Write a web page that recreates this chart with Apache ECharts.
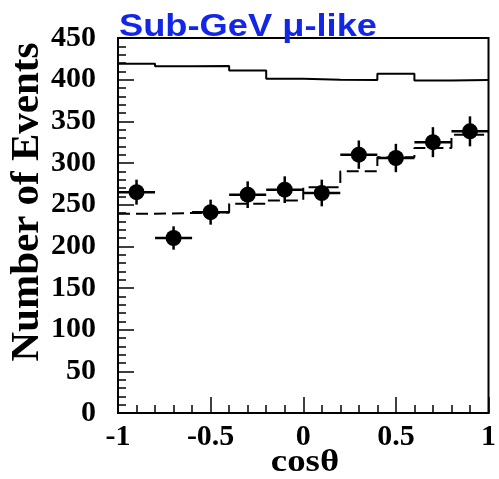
<!DOCTYPE html>
<html>
<head>
<meta charset="utf-8">
<script src="https://cdn.jsdelivr.net/npm/echarts@6/dist/echarts.min.js"></script>
<style>
html,body{margin:0;padding:0;background:#fff;}
#chart{width:499px;height:479px;}
</style>
</head>
<body>
<div id="chart"></div>
<script>
// ---- data ----
var binCenters = [-0.9, -0.7, -0.5, -0.3, -0.1, 0.1, 0.3, 0.5, 0.7, 0.9];
var binHalfWidth = 0.1;
var noOscMC = [419, 416, 416.5, 411, 401, 400, 399.5, 407, 399, 399.5];
var oscMC = [239, 240, 240.5, 251, 255, 271, 290, 307, 318, 334];
var dataVals = [265, 210, 241, 262, 268, 264, 310, 306, 325, 338];
var dataErr = [15, 14, 15, 16, 16, 16, 17, 17, 18, 18];
var titleText = 'Sub-GeV \u03bc-like';
var xTitle = 'cos\u03b8';
var yTitle = 'Number of Events';

// histogram step path from bins
function histPoints(vals) {
  var pts = [];
  for (var i = 0; i < vals.length; i++) {
    pts.push([binCenters[i] - binHalfWidth, vals[i]]);
  }
  pts.push([binCenters[vals.length - 1] + binHalfWidth, vals[vals.length - 1]]);
  return pts;
}
var errData = binCenters.map(function (c, i) { return [c, dataVals[i], dataErr[i], binHalfWidth]; });
var ptData = binCenters.map(function (c, i) { return [c, dataVals[i]]; });

var serif = '"Liberation Serif", "Times New Roman", serif';
var chart = echarts.init(document.getElementById('chart'), null, {renderer: 'canvas'});
chart.setOption({
  animation: false,
  backgroundColor: '#fff',
  grid: {left: 118, right: 6, top: 38, bottom: 66, show: true, borderColor: '#000', borderWidth: 2, backgroundColor: 'transparent'},
  xAxis: {
    type: 'value', min: -1, max: 1, interval: 0.5,
    axisLine: {onZero: false, lineStyle: {color: '#000', width: 2}},
    axisTick: {inside: true, length: 16, lineStyle: {color: '#000', width: 1.5}},
    minorTick: {show: true, splitNumber: 5, length: 8, lineStyle: {color: '#000', width: 1.5}},
    splitLine: {show: false},
    axisLabel: {color: '#000', fontFamily: serif, fontWeight: 'bold', fontSize: 30, margin: 9}
  },
  yAxis: {
    type: 'value', min: 0, max: 450, interval: 50,
    axisLine: {onZero: false, lineStyle: {color: '#000', width: 2}},
    axisTick: {inside: true, length: 16, lineStyle: {color: '#000', width: 1.5}},
    minorTick: {show: true, splitNumber: 5, length: 8, lineStyle: {color: '#000', width: 1.5}},
    splitLine: {show: false},
    axisLabel: {color: '#000', fontFamily: serif, fontWeight: 'bold', fontSize: 30, margin: 22}
  },
  graphic: [
    {type: 'text', x: 119, y: 27, scaleX: 1.17, z: 100,
     style: {text: titleText, fill: '#1226e8', font: 'bold 31px "Liberation Sans", Arial, sans-serif', align: 'left', verticalAlign: 'middle'}},
    {type: 'text', x: 305, y: 463, scaleX: 1.15, z: 100,
     style: {text: xTitle, fill: '#000', font: 'bold 32px ' + serif, align: 'center', verticalAlign: 'middle'}},
    {type: 'text', x: 27, y: 202, rotation: Math.PI / 2, z: 100,
     style: {text: yTitle, fill: '#000', font: 'bold 41px ' + serif, align: 'center', verticalAlign: 'middle'}}
  ],
  series: [
    {type: 'line', step: 'end', data: histPoints(noOscMC), showSymbol: false, symbol: 'none',
     lineStyle: {color: '#000', width: 2}, z: 2},
    {type: 'line', step: 'end', data: histPoints(oscMC), showSymbol: false, symbol: 'none',
     lineStyle: {color: '#000', width: 2, type: [12, 6]}, z: 2},
    {type: 'custom', data: errData, z: 3,
     renderItem: function (params, api) {
       var x = api.value(0), y = api.value(1), e = api.value(2), h = api.value(3);
       var p1 = api.coord([x - h, y]), p2 = api.coord([x + h, y]);
       var p3 = api.coord([x, y - e]), p4 = api.coord([x, y + e]);
       var st = {stroke: '#000', lineWidth: 2.5};
       return {type: 'group', children: [
         {type: 'line', shape: {x1: p1[0], y1: p1[1], x2: p2[0], y2: p2[1]}, style: st},
         {type: 'line', shape: {x1: p3[0], y1: p3[1], x2: p4[0], y2: p4[1]}, style: st}
       ]};
     }},
    {type: 'scatter', data: ptData, symbol: 'circle', symbolSize: 16, itemStyle: {color: '#000', opacity: 1}, z: 4}
  ]
});
</script>
</body>
</html>
